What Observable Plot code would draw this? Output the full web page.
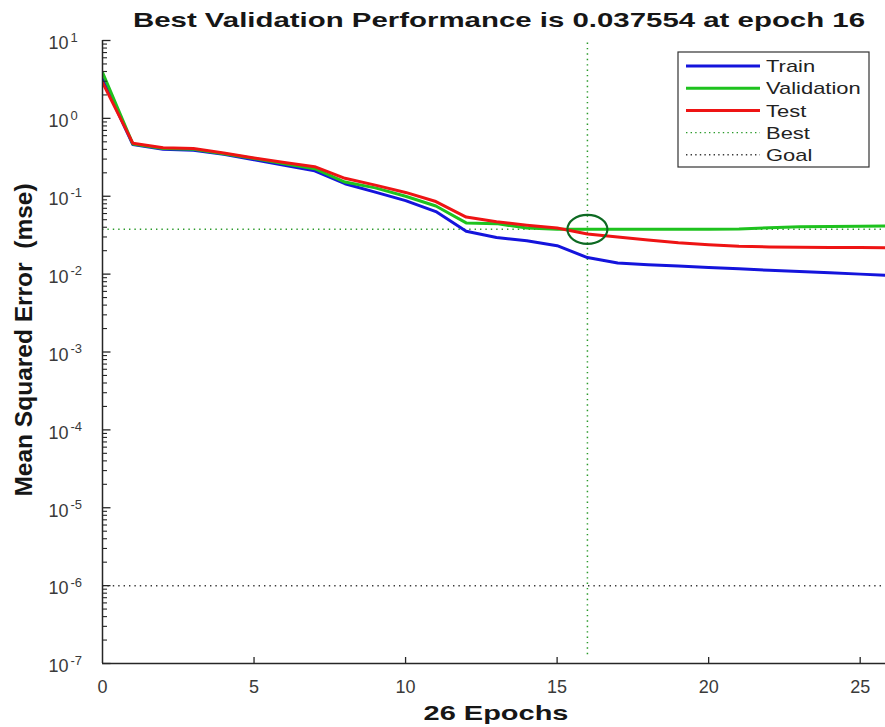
<!DOCTYPE html>
<html><head><meta charset="utf-8">
<script src="https://cdn.jsdelivr.net/npm/d3@7"></script>
<script src="https://cdn.jsdelivr.net/npm/@observablehq/plot@0.6"></script>
<style>
html,body{margin:0;padding:0;background:#fff;overflow:hidden}
#chart{width:885px;height:727px;position:relative}
</style></head><body><div id="chart"></div>
<script>
// ---- data ----
const epochs = [0,1,2,3,4,5,6,7,8,9,10,11,12,13,14,15,16,17,18,19,20,21,22,23,24,25,26];
const train = [3.2,0.46,0.40,0.39,0.345,0.295,0.25,0.212,0.145,0.113,0.088,0.0635,0.0355,0.0295,0.0268,0.0232,0.0163,0.0139,0.0132,0.0127,0.0122,0.0117,0.0112,0.0108,0.0104,0.0100,0.0096];
const validation = [3.9,0.47,0.41,0.40,0.352,0.305,0.262,0.226,0.152,0.128,0.100,0.075,0.0455,0.0445,0.039,0.0378,0.037554,0.0376,0.0377,0.0378,0.0378,0.038,0.0395,0.0405,0.041,0.0412,0.0415];
const test = [2.9,0.48,0.42,0.41,0.36,0.31,0.272,0.24,0.17,0.139,0.112,0.0855,0.054,0.047,0.0425,0.039,0.0328,0.030,0.0275,0.0252,0.0238,0.0228,0.0223,0.0221,0.022,0.0219,0.0218];
const bestEpoch = 16;
const bestPerf = 0.037554;
const goal = 1e-6;
const xTicks = [0,5,10,15,20,25];
const yTickExponents = [1,0,-1,-2,-3,-4,-5,-6,-7];
const legendLabels = ["Train","Validation","Test","Best","Goal"];
const titleText = "Best Validation Performance is 0.037554 at epoch 16";
const xLabelText = "26 Epochs";
const yLabelText = "Mean Squared Error  (mse)";

// ---- styles ----
const C = {train:"#1414dc", val:"#1ec21e", test:"#ee1414", best:"#2a9a2a", goal:"#3a3a3a", axis:"#262626", tick:"#3a3a3a", circle:"#0d6a22"};
const FONT = "'Liberation Sans', Arial, Helvetica, sans-serif";

const decades = yTickExponents.map(e => 10 ** e);
const minorY = d3.scaleLog().domain([1e-7, 10]).ticks().filter(v => !decades.some(d => Math.abs(v / d - 1) < 1e-9));

const segRight = len => ({draw(ctx){ ctx.moveTo(0,0); ctx.lineTo(len,0); }});
const segUp = len => ({draw(ctx){ ctx.moveTo(0,0); ctx.lineTo(0,-len); }});
const ellipse = (rx, ry) => ({draw(ctx){
  const k = 0.5523;
  ctx.moveTo(rx,0);
  ctx.bezierCurveTo(rx, ry*k, rx*k, ry, 0, ry);
  ctx.bezierCurveTo(-rx*k, ry, -rx, ry*k, -rx, 0);
  ctx.bezierCurveTo(-rx, -ry*k, -rx*k, -ry, 0, -ry);
  ctx.bezierCurveTo(rx*k, -ry, rx, -ry*k, rx, 0);
  ctx.closePath();
}});

const lineOpts = (arr, color) => ({x: d => d, y: (d, i) => arr[i], stroke: color, strokeWidth: 3, clip: true, strokeLinejoin: "round"});

const plot = Plot.plot({
  width: 885, height: 727,
  marginTop: 40, marginBottom: 64, marginLeft: 102, marginRight: 0,
  x: {domain: [0, 26], range: [102, 890], axis: null},
  y: {type: "log", domain: [1e-7, 10], axis: null},
  style: {fontFamily: FONT, background: "white", overflow: "hidden"},
  marks: [
    Plot.ruleY([goal], {stroke: C.goal, strokeWidth: 1.5, strokeDasharray: "1.4 4"}),
    Plot.ruleY([bestPerf], {stroke: C.best, strokeWidth: 1.5, strokeDasharray: "1.4 4"}),
    Plot.ruleX([bestEpoch], {y1: 1.3e-7, y2: 10, stroke: C.best, strokeWidth: 1.5, strokeDasharray: "1.4 4"}),
    Plot.line(epochs, lineOpts(train, C.train)),
    Plot.line(epochs, lineOpts(validation, C.val)),
    Plot.line(epochs, lineOpts(test, C.test)),
    Plot.dot([{epoch: bestEpoch, mse: bestPerf}], {x: "epoch", y: "mse", symbol: ellipse(20, 14.5), fill: "none", stroke: C.circle, strokeWidth: 2.2}),
    // axes
    Plot.ruleX([0], {stroke: C.axis, strokeWidth: 1.5}),
    Plot.ruleY([1e-7], {stroke: C.axis, strokeWidth: 1.5}),
    Plot.dot(decades, {x: 0, y: d => d, symbol: segRight(8), fill: "none", stroke: C.axis, strokeWidth: 1.3}),
    Plot.dot(minorY, {x: 0, y: d => d, symbol: segRight(4.5), fill: "none", stroke: C.axis, strokeWidth: 1.1}),
    Plot.dot(xTicks.filter(d => d > 0), {x: d => d, y: 1e-7, symbol: segUp(6.5), fill: "none", stroke: C.axis, strokeWidth: 1.3}),
    // tick labels
    Plot.text(yTickExponents, {x: 0, y: e => 10 ** e, text: () => "10", textAnchor: "end", dx: -34, dy: 3, fontSize: 18, fill: C.tick}),
    Plot.text(yTickExponents, {x: 0, y: e => 10 ** e, text: e => (e < 0 ? "-" + Math.abs(e) : String(e)), textAnchor: "start", dx: -32, dy: -3, fontSize: 13, fill: C.tick}),
    Plot.text(xTicks, {x: d => d, y: 1e-7, text: d => String(d), dy: 24, fontSize: 18, fill: C.tick})
  ]
});
document.getElementById("chart").appendChild(plot);

// ---- titles and legend (appended into the same SVG) ----
const svg = d3.select(plot);
function stretchedText(sel, factor) {
  sel.each(function(){
    const w = this.getComputedTextLength();
    d3.select(this).attr("textLength", w * factor).attr("lengthAdjust", "spacingAndGlyphs");
  });
  return sel;
}
stretchedText(svg.append("text").attr("x", 499).attr("y", 27).attr("text-anchor", "middle")
  .attr("font-family", FONT).attr("font-weight", "bold").attr("font-size", 21).attr("fill", "#161616").text(titleText), 1.4);
stretchedText(svg.append("text").attr("x", 496).attr("y", 720).attr("text-anchor", "middle")
  .attr("font-family", FONT).attr("font-weight", "bold").attr("font-size", 21).attr("fill", "#161616").text(xLabelText), 1.38);
svg.append("text").attr("transform", "translate(32,340) rotate(-90)").attr("text-anchor", "middle")
  .attr("font-family", FONT).attr("font-weight", "bold").attr("font-size", 24.5).attr("fill", "#161616").text(yLabelText);

const lg = svg.append("g");
lg.append("rect").attr("x", 678).attr("y", 52).attr("width", 191).attr("height", 115)
  .attr("fill", "white").attr("stroke", "#333").attr("stroke-width", 1.2);
const legendStyles = [
  {stroke: C.train, w: 3, dash: null},
  {stroke: C.val, w: 3, dash: null},
  {stroke: C.test, w: 3, dash: null},
  {stroke: C.best, w: 1.4, dash: "1.4 3.2"},
  {stroke: C.goal, w: 1.4, dash: "1.4 3.2"}
];
legendLabels.forEach((lab, i) => {
  const y = 66 + i * 22.2;
  const s = legendStyles[i];
  lg.append("line").attr("x1", 686).attr("x2", 760).attr("y1", y).attr("y2", y)
    .attr("stroke", s.stroke).attr("stroke-width", s.w).attr("stroke-dasharray", s.dash);
  stretchedText(lg.append("text").attr("x", 766).attr("y", y).attr("dy", "0.36em").attr("text-anchor", "start")
    .attr("font-family", FONT).attr("font-size", 17).attr("fill", "#222").text(lab), 1.29);
});
</script>
</body></html>
